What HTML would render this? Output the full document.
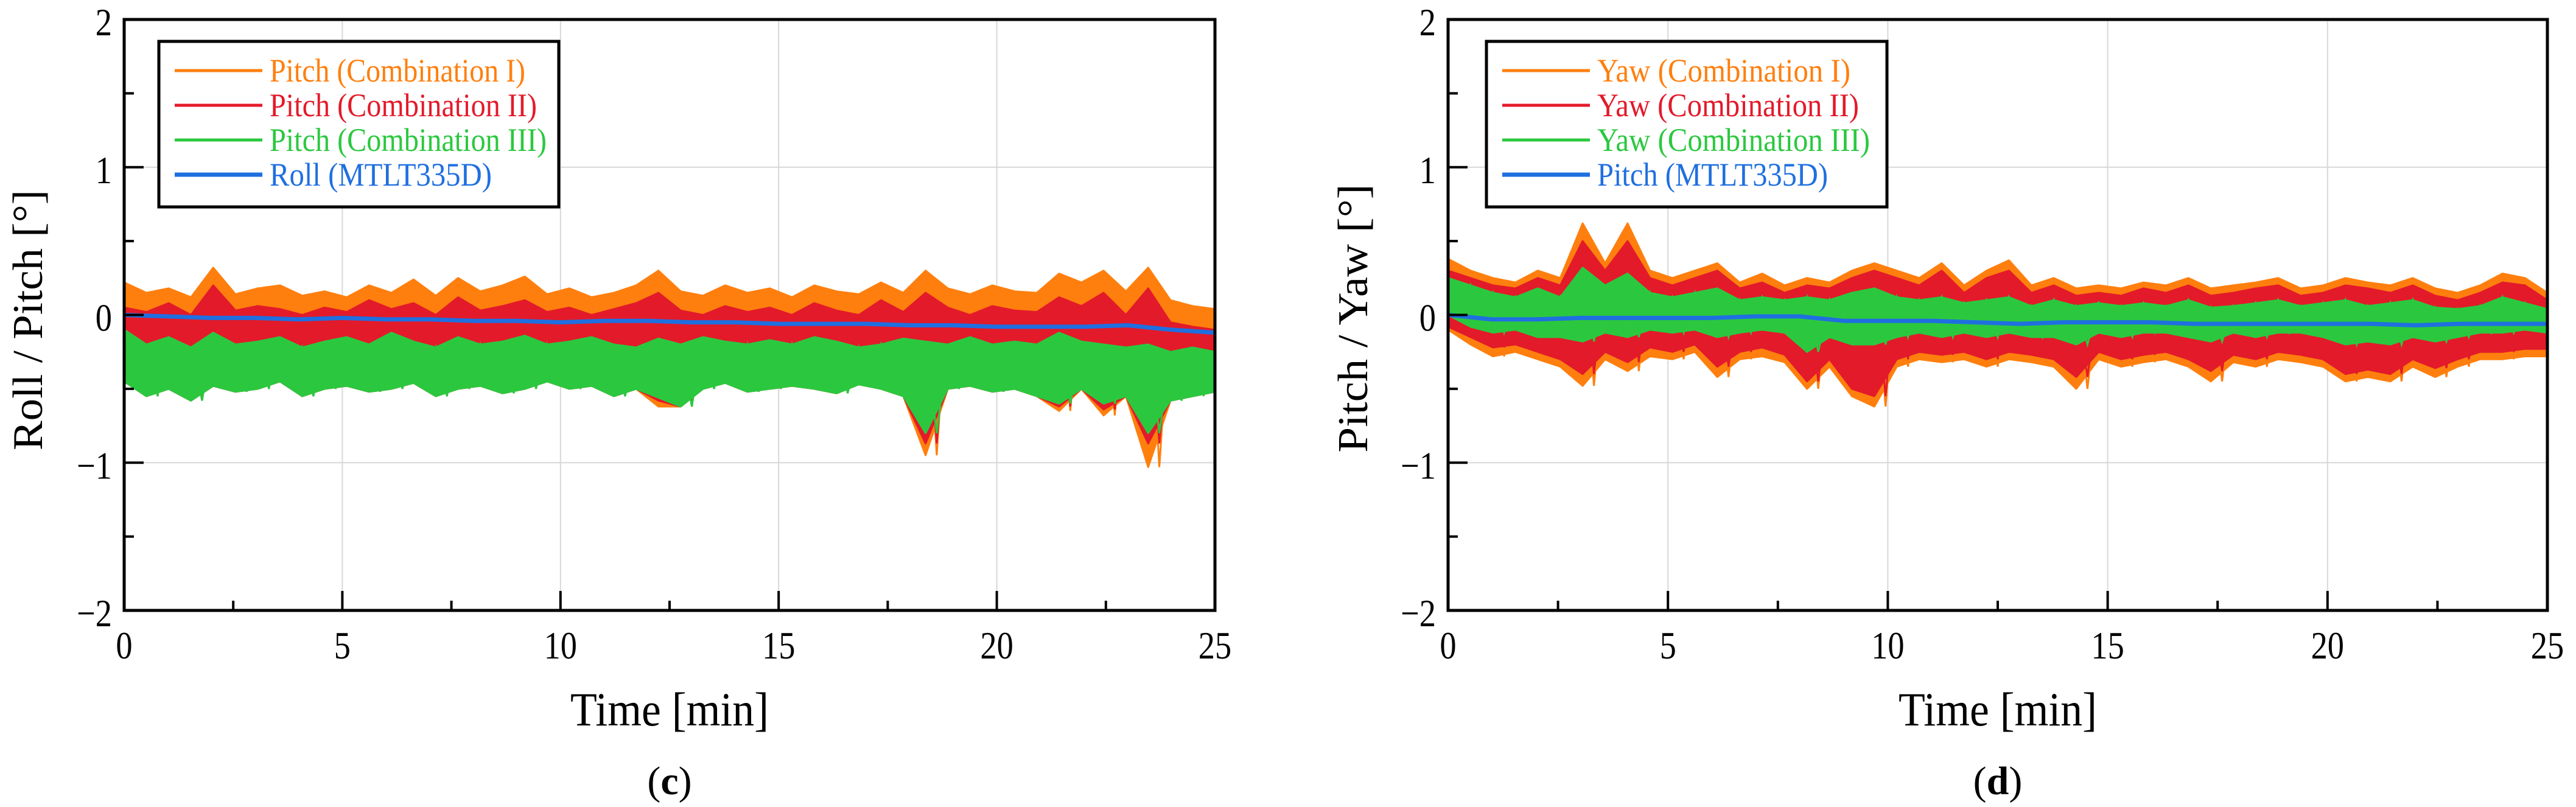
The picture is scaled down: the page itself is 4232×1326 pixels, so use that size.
<!DOCTYPE html>
<html><head><meta charset="utf-8"><style>
html,body{margin:0;padding:0;background:#fff;}
svg{display:block;font-family:"Liberation Serif",serif;}
</style></head><body>
<svg id="fig" width="4232" height="1326" viewBox="0 0 4232 1326" xmlns="http://www.w3.org/2000/svg"></svg>
<script>
// ---------- data ----------
const xTicks = [0, 5, 10, 15, 20, 25];
const yTicks = [-2, -1, 0, 1, 2];
const yTickLabels = ["\u22122", "\u22121", "0", "1", "2"];
const tMax = 25;
// Left chart (c) envelopes, 50 samples over 0..25 min
const cOrangeHi = [0.22,0.15,0.18,0.12,0.32,0.14,0.18,0.2,0.13,0.16, 0.12,0.2,0.15,0.24,0.13,0.25,0.16,0.2,0.26,0.14, 0.18,0.12,0.15,0.2,0.3,0.16,0.13,0.2,0.15,0.18, 0.12,0.2,0.16,0.14,0.22,0.15,0.3,0.18,0.14,0.2, 0.16,0.15,0.28,0.22,0.3,0.16,0.32,0.1,0.06,0.04];
const cOrangeLo = [-0.45,-0.55,-0.5,-0.58,-0.48,-0.52,-0.5,-0.45,-0.55,-0.5, -0.48,-0.52,-0.5,-0.46,-0.55,-0.5,-0.48,-0.53,-0.5,-0.45, -0.5,-0.48,-0.55,-0.5,-0.62,-0.62,-0.5,-0.46,-0.52,-0.5, -0.48,-0.5,-0.53,-0.47,-0.5,-0.55,-0.95,-0.5,-0.48,-0.52, -0.5,-0.55,-0.65,-0.5,-0.68,-0.55,-1.03,-0.58,-0.55,-0.52];
const cRedHi = [0.05,0.02,0.08,0.0,0.2,0.03,0.06,0.04,0.0,0.05, 0.02,0.1,0.04,0.08,0.0,0.12,0.03,0.06,0.1,0.02, 0.05,0.0,0.04,0.08,0.15,0.03,0.0,0.06,0.02,0.05, 0.0,0.08,0.03,0.0,0.1,0.02,0.15,0.05,0.0,0.06, 0.03,0.02,0.12,0.06,0.15,0.0,0.18,-0.05,-0.08,-0.1];
const cRedLo = [-0.45,-0.55,-0.5,-0.58,-0.48,-0.52,-0.5,-0.45,-0.55,-0.5, -0.48,-0.52,-0.5,-0.46,-0.55,-0.5,-0.48,-0.53,-0.5,-0.45, -0.5,-0.48,-0.55,-0.5,-0.58,-0.62,-0.5,-0.46,-0.52,-0.5, -0.48,-0.5,-0.53,-0.47,-0.5,-0.55,-0.87,-0.5,-0.48,-0.52, -0.5,-0.55,-0.62,-0.5,-0.64,-0.55,-0.87,-0.58,-0.55,-0.52];
const cGreenHi = [-0.1,-0.2,-0.15,-0.22,-0.12,-0.2,-0.18,-0.15,-0.22,-0.18, -0.15,-0.2,-0.12,-0.18,-0.22,-0.15,-0.2,-0.18,-0.14,-0.2, -0.18,-0.15,-0.2,-0.22,-0.16,-0.2,-0.15,-0.18,-0.2,-0.17, -0.2,-0.15,-0.18,-0.22,-0.2,-0.16,-0.18,-0.2,-0.15,-0.2, -0.18,-0.2,-0.12,-0.18,-0.2,-0.22,-0.2,-0.25,-0.22,-0.25];
const cGreenLo = [-0.45,-0.55,-0.5,-0.58,-0.48,-0.52,-0.5,-0.45,-0.55,-0.5, -0.48,-0.52,-0.5,-0.46,-0.55,-0.5,-0.48,-0.53,-0.5,-0.45, -0.5,-0.48,-0.55,-0.5,-0.56,-0.62,-0.5,-0.46,-0.52,-0.5, -0.48,-0.5,-0.53,-0.47,-0.5,-0.55,-0.8,-0.5,-0.48,-0.52, -0.5,-0.55,-0.6,-0.5,-0.6,-0.55,-0.8,-0.58,-0.55,-0.52];
const cBlue = [0,-0.01,-0.02,-0.02,-0.03,-0.02,-0.03,-0.03,-0.04,-0.04,-0.05,-0.04,-0.04,-0.05,-0.05,-0.06,-0.06,-0.06,-0.07,-0.07,-0.08,-0.08,-0.08,-0.07,-0.1,-0.12];
// Right chart (d)
const dOrangeHi = [0.38,0.3,0.25,0.22,0.3,0.25,0.62,0.35,0.62,0.3, 0.25,0.3,0.35,0.22,0.28,0.2,0.25,0.22,0.3,0.35, 0.3,0.25,0.35,0.2,0.3,0.37,0.2,0.25,0.18,0.2, 0.18,0.22,0.2,0.25,0.18,0.2,0.22,0.25,0.18,0.2, 0.25,0.22,0.2,0.25,0.18,0.15,0.2,0.28,0.25,0.15];
const dOrangeLo = [-0.1,-0.2,-0.28,-0.25,-0.3,-0.35,-0.48,-0.3,-0.38,-0.28, -0.3,-0.25,-0.42,-0.3,-0.28,-0.32,-0.5,-0.35,-0.55,-0.62, -0.35,-0.3,-0.32,-0.3,-0.35,-0.3,-0.32,-0.35,-0.5,-0.3, -0.35,-0.32,-0.3,-0.35,-0.45,-0.32,-0.35,-0.3,-0.32,-0.35, -0.45,-0.42,-0.45,-0.35,-0.42,-0.35,-0.3,-0.3,-0.28,-0.28];
const dRedHi = [0.3,0.25,0.2,0.18,0.25,0.2,0.5,0.3,0.5,0.25, 0.2,0.25,0.3,0.18,0.22,0.15,0.2,0.18,0.25,0.3, 0.25,0.2,0.3,0.15,0.25,0.3,0.15,0.2,0.13,0.15, 0.13,0.18,0.15,0.2,0.13,0.15,0.18,0.2,0.13,0.15, 0.2,0.18,0.15,0.2,0.13,0.1,0.15,0.22,0.2,0.1];
const dRedLo = [-0.08,-0.15,-0.22,-0.2,-0.25,-0.3,-0.4,-0.25,-0.32,-0.22, -0.25,-0.2,-0.35,-0.25,-0.22,-0.27,-0.45,-0.3,-0.5,-0.55, -0.3,-0.25,-0.27,-0.25,-0.3,-0.25,-0.27,-0.3,-0.42,-0.25, -0.3,-0.27,-0.25,-0.3,-0.38,-0.27,-0.3,-0.25,-0.27,-0.3, -0.4,-0.37,-0.4,-0.3,-0.36,-0.3,-0.25,-0.25,-0.23,-0.23];
const dGreenHi = [0.25,0.2,0.15,0.12,0.18,0.12,0.32,0.2,0.28,0.15, 0.12,0.15,0.18,0.1,0.12,0.1,0.12,0.1,0.15,0.18, 0.12,0.1,0.12,0.08,0.1,0.12,0.06,0.1,0.06,0.08, 0.06,0.08,0.06,0.1,0.05,0.06,0.08,0.1,0.06,0.08, 0.1,0.06,0.08,0.1,0.05,0.04,0.06,0.12,0.08,0.04];
const dGreenLo = [0.0,-0.08,-0.12,-0.1,-0.15,-0.15,-0.18,-0.12,-0.15,-0.1, -0.12,-0.1,-0.15,-0.12,-0.1,-0.12,-0.25,-0.15,-0.2,-0.2, -0.15,-0.12,-0.15,-0.12,-0.15,-0.12,-0.15,-0.15,-0.2,-0.12, -0.15,-0.12,-0.12,-0.15,-0.18,-0.12,-0.15,-0.12,-0.12,-0.15, -0.2,-0.18,-0.2,-0.15,-0.18,-0.15,-0.12,-0.12,-0.1,-0.12];
const dBlue = [0.0,-0.03,-0.03,-0.02,-0.02,-0.02,-0.02,-0.01,-0.01,-0.04,-0.04,-0.04,-0.05,-0.06,-0.05,-0.05,-0.05,-0.06,-0.06,-0.06,-0.06,-0.06,-0.07,-0.06,-0.06,-0.06];
const cLegend = ["Pitch (Combination I)", "Pitch (Combination II)", "Pitch (Combination III)", "Roll (MTLT335D)"];
const dLegend = ["Yaw (Combination I)", "Yaw (Combination II)", "Yaw (Combination III)", "Pitch (MTLT335D)"];

// ---------- drawing ----------
const NS = "http://www.w3.org/2000/svg";
const svg = document.getElementById("fig");
const COLORS = ["#ff7f0e", "#e31a2a", "#2bc83f", "#1f6fe0"];
function mk(tag, attrs, parent) {
  const e = document.createElementNS(NS, tag);
  for (const k in attrs) e.setAttribute(k, attrs[k]);
  (parent || svg).appendChild(e);
  return e;
}
function drawChart(cfg) {
  const g = mk("g", {});
  
  
  const L = cfg.x0, R = cfg.x1, T = 32, B = 1003;
  const xs = t => L + (R - L) * t / tMax;
  const ys = v => B - (B - T) * (v + 2) / 4;
  xTicks.forEach(t => {
    const l = mk("line", {x1: xs(t), x2: xs(t), y1: T, y2: B, stroke: "#d8d8d8", "stroke-width": 2}, g);
    
    
  });
  yTicks.forEach(v => {
    const l = mk("line", {x1: L, x2: R, y1: ys(v), y2: ys(v), stroke: "#d8d8d8", "stroke-width": 2}, g);
    
    
  });
  cfg.bands.forEach((b, si) => {
    const n = b.hi.length;
    const X = i => xs(tMax * i / (n - 1));
    let d = "";
    for (let i = 0; i < n; i++) d += (i ? "L" : "M") + X(i).toFixed(1) + " " + ys(b.hi[i]).toFixed(1);
    for (let i = n - 1; i >= 0; i--) d += "L" + X(i).toFixed(1) + " " + ys(b.lo[i]).toFixed(1);
    d += "Z";
    const p = mk("path", {d: d, fill: b.color, stroke: b.color, "stroke-width": 3, "stroke-linejoin": "round"}, g);
    
    
    let z = "";
    for (let i = 0; i < n - 1; i++) {
      const xa = X(i), xb = X(i + 1);
      z += (i ? "L" : "M") + xa.toFixed(1) + " " + ys(b.hi[i]).toFixed(1);
      z += "L" + ((xa + xb) / 2).toFixed(1) + " " + ys(b.lo[i]).toFixed(1);
    }
    const zz = mk("path", {d: z, fill: "none", stroke: b.color, "stroke-width": 3}, g);
    
    
  });
  const nb = cfg.blue.length;
  const pts = cfg.blue.map((v, i) => xs(tMax * i / (nb - 1)).toFixed(1) + "," + ys(v).toFixed(1)).join(" ");
  const bl = mk("polyline", {points: pts, fill: "none", stroke: COLORS[3], "stroke-width": 7, "stroke-linejoin": "round"}, g);
  
  
  for (let t = 0; t <= tMax; t += 2.5) {
    const major = t % 5 === 0;
    const tk = mk("line", {x1: xs(t), x2: xs(t), y1: B, y2: B - (major ? 32 : 16), stroke: "#000", "stroke-width": 4}, g);
    
    
  }
  for (let v = -2; v <= 2; v += 0.5) {
    const major = Number.isInteger(v);
    const tk = mk("line", {x1: L, x2: L + (major ? 32 : 16), y1: ys(v), y2: ys(v), stroke: "#000", "stroke-width": 4}, g);
    
    
  }
  const fr = mk("rect", {x: L, y: T, width: R - L, height: B - T, fill: "none", stroke: "#000", "stroke-width": 5}, g);
  
  
  xTicks.forEach(t => {
    const tx = mk("text", {x: 0, y: 0, "font-size": 64, "text-anchor": "middle", transform: "translate(" + xs(t) + ",1082) scale(0.85,1)"}, g);
    tx.textContent = String(t);
    
    
  });
  yTicks.forEach((v, i) => {
    const tx = mk("text", {x: 0, y: 0, "font-size": 64, "text-anchor": "end", transform: "translate(" + (L - 20) + "," + (ys(v) + 26) + ") scale(0.85,1)"}, g);
    tx.textContent = yTickLabels[i];
    
    
  });
  const xt = mk("text", {x: (L + R) / 2, y: 1192, "font-size": 78, "text-anchor": "middle", textLength: 326, lengthAdjust: "spacingAndGlyphs"}, g);
  xt.textContent = "Time [min]";
  
  
  const yt = mk("text", {x: 0, y: 0, "font-size": 70, "text-anchor": "middle", textLength: cfg.yLen, lengthAdjust: "spacingAndGlyphs",
    transform: "translate(" + (cfg.yTitleX + 22) + "," + cfg.yTitleY + ") rotate(-90)"}, g);
  yt.textContent = cfg.yTitle;
  
  
  const pl = mk("text", {x: (L + R) / 2, y: 1305, "font-size": 66, "text-anchor": "middle"}, g);
  pl.textContent = "(";
  const bt = mk("tspan", {"font-weight": "bold"}, pl);
  bt.textContent = cfg.panel;
  const cl = mk("tspan", {}, pl);
  cl.textContent = ")";
  
  
  const lg = mk("g", {}, g);
  
  
  const bx = mk("rect", {x: cfg.lgX, y: 68, width: cfg.lgW, height: 272, fill: "#fff", stroke: "#000", "stroke-width": 5}, lg);
  
  
  cfg.legend.forEach((lab, i) => {
    const y = 116 + 57 * i;
    const ln = mk("line", {x1: cfg.lgX + 26, x2: cfg.lgX + 170, y1: y, y2: y, stroke: COLORS[i], "stroke-width": i === 3 ? 7 : 5}, lg);
    
    
    const tx = mk("text", {x: cfg.lgX + 182, y: y + 18, "font-size": 54, fill: COLORS[i], textLength: cfg.lgLens[i], lengthAdjust: "spacingAndGlyphs"}, lg);
    tx.textContent = lab;
    
    
  });
}
drawChart({name: "chart-c", x0: 204, x1: 1996, panel: "c", yTitle: "Roll / Pitch [\u00b0]", yTitleX: 47, yTitleY: 526, yLen: 428,
  bands: [{hi: cOrangeHi, lo: cOrangeLo, color: COLORS[0]}, {hi: cRedHi, lo: cRedLo, color: COLORS[1]}, {hi: cGreenHi, lo: cGreenLo, color: COLORS[2]}],
  blue: cBlue, legend: cLegend, lgX: 261, lgW: 657, lgLens: [420, 439, 455, 365]});
drawChart({name: "chart-d", x0: 2379, x1: 4185, panel: "d", yTitle: "Pitch / Yaw [\u00b0]", yTitleX: 2224, yTitleY: 523, yLen: 441,
  bands: [{hi: dOrangeHi, lo: dOrangeLo, color: COLORS[0]}, {hi: dRedHi, lo: dRedLo, color: COLORS[1]}, {hi: dGreenHi, lo: dGreenLo, color: COLORS[2]}],
  blue: dBlue, legend: dLegend, lgX: 2442, lgW: 658, lgLens: [416, 430, 448, 379]});
</script>
</body></html>
